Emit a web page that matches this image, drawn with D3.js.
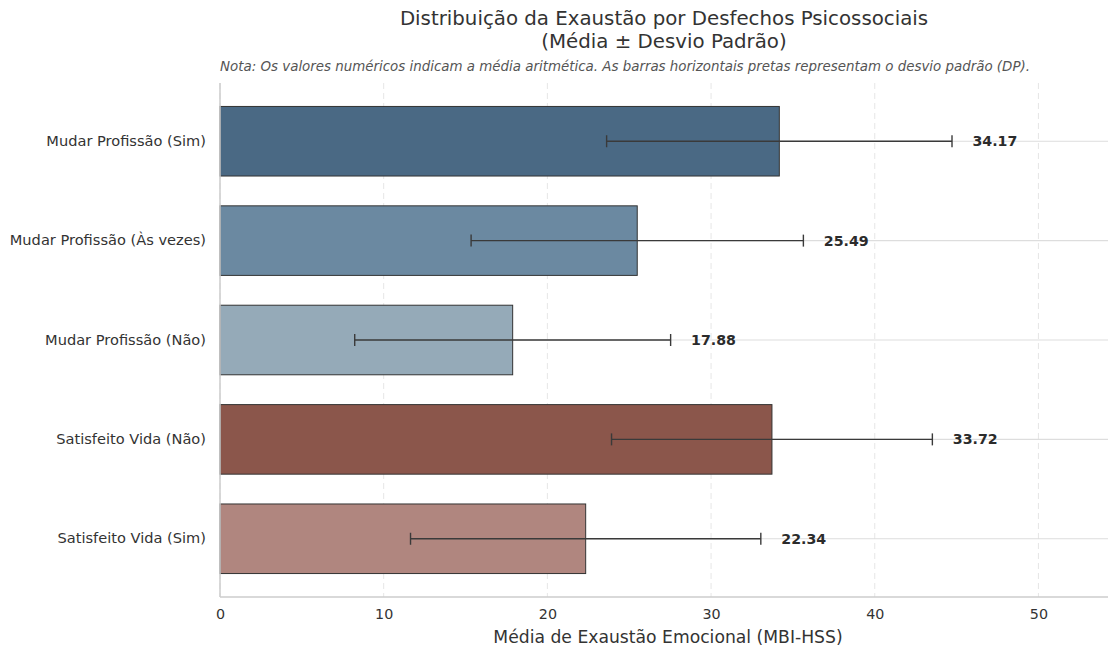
<!DOCTYPE html>
<html lang="pt">
<head>
<meta charset="UTF-8">
<title>Distribuição da Exaustão</title>
<style>
  body { margin: 0; background: #fff; }
  svg text { font-family: "DejaVu Sans", sans-serif; }
</style>
</head>
<body>
<svg id="graph"></svg>
<script src="https://d3js.org/d3.v7.min.js"></script>
<script>
const categories = ['Mudar Profissão (Sim)', 'Mudar Profissão (Às vezes)', 'Mudar Profissão (Não)', 'Satisfeito Vida (Não)', 'Satisfeito Vida (Sim)'];
const means = [34.17, 25.49, 17.88, 33.72, 22.34];
const sds = [10.55, 10.15, 9.65, 9.8, 10.7];
const colors = ['#4a6984', '#6b89a1', '#95aab8', '#8b564b', '#b0867f'];
const xTicks = [0, 10, 20, 30, 40, 50];

const width = 1108, height = 648;
const margin = { top: 83, right: 0, bottom: 51, left: 220 };
const graphWidth = width - margin.left - margin.right;
const graphHeight = height - margin.top - margin.bottom;

const svg = d3.select('#graph').attr('width', width).attr('height', height);

const xScale = d3.scaleLinear().domain([0, 54.25]).range([0, graphWidth]);
const yScale = d3.scaleBand().domain(categories).range([0, graphHeight])
  .paddingInner(0.3).paddingOuter(0.236);

const graph = svg.append('g').attr('transform', `translate(${margin.left}, ${margin.top})`);

// grid
graph.selectAll('.vgrid').data(xTicks).enter().append('line')
  .attr('x1', d => xScale(d)).attr('x2', d => xScale(d))
  .attr('y1', 0).attr('y2', graphHeight)
  .attr('stroke', '#e6e6e6').attr('stroke-width', 1).attr('stroke-dasharray', '6,4');
graph.selectAll('.hgrid').data(categories).enter().append('line')
  .attr('x1', 0).attr('x2', graphWidth)
  .attr('y1', d => yScale(d) + yScale.bandwidth() / 2)
  .attr('y2', d => yScale(d) + yScale.bandwidth() / 2)
  .attr('stroke', '#dddddd').attr('stroke-width', 1.2);

// bars
graph.selectAll('.bar').data(categories).enter().append('rect')
  .attr('x', 0).attr('y', d => yScale(d))
  .attr('width', (d, i) => xScale(means[i]))
  .attr('height', yScale.bandwidth())
  .attr('fill', (d, i) => colors[i])
  .attr('stroke', '#333').attr('stroke-width', 1);

// error bars
const eb = graph.selectAll('.err').data(categories).enter().append('g')
  .attr('transform', d => `translate(0, ${yScale(d) + yScale.bandwidth() / 2})`);
eb.append('line')
  .attr('x1', (d, i) => xScale(means[i] - sds[i])).attr('x2', (d, i) => xScale(means[i] + sds[i]))
  .attr('stroke', '#3a3a3a').attr('stroke-width', 1.4);
eb.append('line')
  .attr('x1', (d, i) => xScale(means[i] - sds[i])).attr('x2', (d, i) => xScale(means[i] - sds[i]))
  .attr('y1', -6).attr('y2', 6).attr('stroke', '#3a3a3a').attr('stroke-width', 1.4);
eb.append('line')
  .attr('x1', (d, i) => xScale(means[i] + sds[i])).attr('x2', (d, i) => xScale(means[i] + sds[i]))
  .attr('y1', -6).attr('y2', 6).attr('stroke', '#3a3a3a').attr('stroke-width', 1.4);
eb.append('text')
  .attr('x', (d, i) => xScale(means[i] + sds[i] + 1.25))
  .attr('dy', '0.35em')
  .attr('font-size', 14.2).attr('font-weight', 'bold').attr('fill', '#2b2b2b')
  .text((d, i) => means[i].toFixed(2));

// spines
graph.append('line').attr('x1', 0).attr('x2', 0).attr('y1', 0).attr('y2', graphHeight)
  .attr('stroke', '#cccccc').attr('stroke-width', 1.5);
graph.append('line').attr('x1', 0).attr('x2', graphWidth).attr('y1', graphHeight).attr('y2', graphHeight)
  .attr('stroke', '#cccccc').attr('stroke-width', 1.5);

// axes
const xAxis = d3.axisBottom(xScale).tickValues(xTicks).tickSize(0).tickPadding(12);
const gx = graph.append('g').attr('transform', `translate(0, ${graphHeight})`).call(xAxis);
gx.select('.domain').remove();
gx.selectAll('text').attr('font-size', 14.3).attr('fill', '#333').style('font-family', '"DejaVu Sans", sans-serif');

const yAxis = d3.axisLeft(yScale).tickSize(0).tickPadding(14);
const gy = graph.append('g').call(yAxis);
gy.select('.domain').remove();
gy.selectAll('text').attr('font-size', 14.6).attr('fill', '#333').style('font-family', '"DejaVu Sans", sans-serif');

// titles
svg.append('text').attr('x', 664).attr('y', 25).attr('text-anchor', 'middle')
  .attr('font-size', 19.8).attr('fill', '#333').text('Distribuição da Exaustão por Desfechos Psicossociais');
svg.append('text').attr('x', 664).attr('y', 48).attr('text-anchor', 'middle')
  .attr('font-size', 19.8).attr('fill', '#333').text('(Média ± Desvio Padrão)');
svg.append('text').attr('x', 625).attr('y', 71).attr('text-anchor', 'middle')
  .attr('font-size', 13.4).attr('font-style', 'italic').attr('fill', '#555')
  .text('Nota: Os valores numéricos indicam a média aritmética. As barras horizontais pretas representam o desvio padrão (DP).');
svg.append('text').attr('x', 668).attr('y', 643).attr('text-anchor', 'middle')
  .attr('font-size', 17.2).attr('fill', '#333').text('Média de Exaustão Emocional (MBI-HSS)');
</script>
</body>
</html>
